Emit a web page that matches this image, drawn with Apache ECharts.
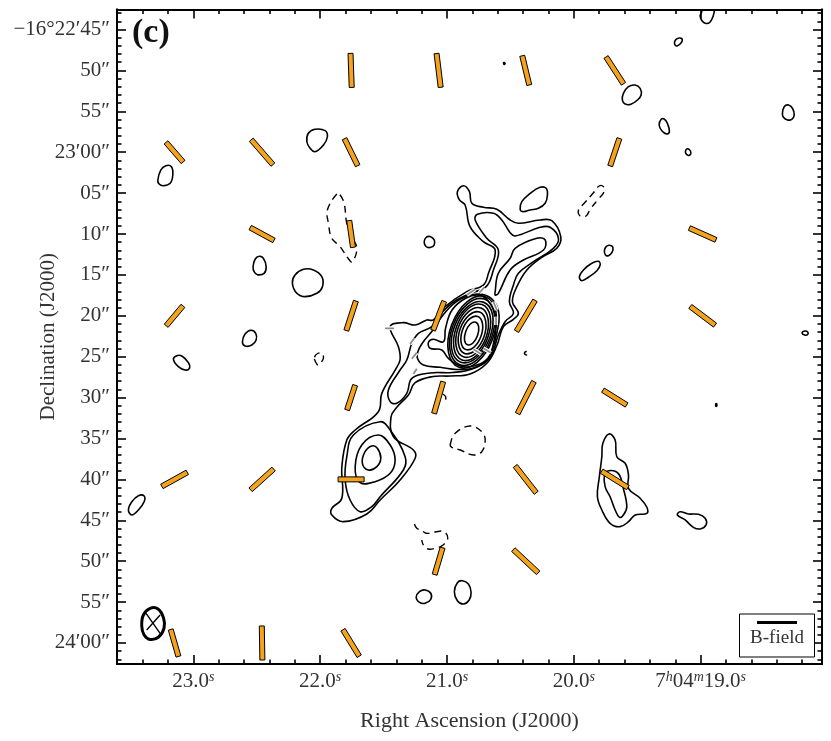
<!DOCTYPE html>
<html>
<head>
<meta charset="utf-8">
<title>(c)</title>
<style>
html,body{margin:0;padding:0;background:#fff;}
#chart{width:831px;height:741px;}
</style>
<script src="https://cdn.jsdelivr.net/npm/echarts@6/dist/echarts.min.js"></script>
</head>
<body>
<div id="chart"></div>
<script>
// tick positions, RA in seconds of 7h04m, Dec in arcsec past -16d22m
var raTicks = [23,22,21,20,19];
var raLabels = ['{n|23.0}{s|s}','{n|22.0}{s|s}','{n|21.0}{s|s}','{n|20.0}{s|s}','{n|7}{s|h}{n|04}{s|m}{n|19.0}{s|s}'];
var raMinor = [18.2,18.4,18.6,18.8,19.2,19.4,19.6,19.8,20.2,20.4,20.6,20.8,21.2,21.4,21.6,21.8,22.2,22.4,22.6,22.8,23.2,23.4];
var decTicks = [45,50,55,60,65,70,75,80,85,90,95,100,105,110,115,120];
var decLabels = ['\u221216\u00b022\u203245\u2033','50\u2033','55\u2033','23\u203200\u2033','05\u2033','10\u2033','15\u2033','20\u2033','25\u2033','30\u2033','35\u2033','40\u2033','45\u2033','50\u2033','55\u2033','24\u203200\u2033'];
var decMinor = [43,44,46,47,48,49,51,52,53,54,56,57,58,59,61,62,63,64,66,67,68,69,71,72,73,74,76,77,78,79,81,82,83,84,86,87,88,89,91,92,93,94,96,97,98,99,101,102,103,104,106,107,108,109,111,112,113,114,116,117,118,119,121,122];

// B-field vectors: ra, dec, length (arcsec), angle from north (deg)
var fieldVectors = [
	[21.756,50,4.16,-2],[21.066,50,4.16,-7],[20.379,50,3.67,-13.5],[19.677,50,3.91,-33],
	[23.148,60,3.18,-41],[22.458,60,4.03,-41],[21.756,60,3.67,-26],[19.677,60,3.55,18.5],
	[22.458,70,3.30,-61.5],[21.756,70,3.30,-8],[18.984,70,3.55,-66],
	[23.148,80,3.18,40],[21.756,80,3.79,18],[21.066,80,3.79,21],[20.379,80,4.40,31],[18.984,80,3.79,-53],
	[21.756,90,3.18,18],[21.066,90,4.03,16],[20.379,90,4.40,27],[19.677,90,3.42,-58],
	[23.148,100,3.55,61],[22.458,100,3.79,48],[21.756,100,3.18,90],[20.379,100,4.16,-38],[19.677,100,3.79,-58],
	[21.066,110,3.42,16.5],[20.379,110,4.16,-47],
	[23.148,120,3.42,-16],[22.458,120,4.16,-1],[21.756,120,3.79,-31.5]
];

// main source, outer levels
var jetL1 = [[20.870,64.10],[20.823,64.83],[20.804,66.25],[20.713,66.74],[20.607,66.98],[20.502,68.29],[20.437,68.69],[20.266,68.29],[20.174,68.38],[20.103,70.33],[20.134,71.75],[20.252,72.85],[20.370,74.40],[20.449,76.44],[20.484,78.28],[20.437,79.70],[20.476,80.43],[20.555,81.33],[20.605,83.57],[20.684,85.77],[20.818,87.11],[20.975,87.36],[21.110,87.42],[21.251,88.18],[21.304,89.68],[21.396,91.19],[21.441,92.34],[21.422,94.78],[21.265,96.41],[21.251,97.42],[21.370,100.07],[21.527,102.52],[21.632,104.23],[21.817,105.17],[21.908,104.35],[21.908,103.54],[21.829,102.31],[21.829,98.45],[21.790,95.18],[21.724,93.96],[21.541,91.72],[21.514,89.48],[21.409,86.63],[21.370,85.40],[21.383,83.78],[21.448,81.33],[21.344,80.84],[21.251,81.13],[21.159,80.51],[21.107,80.51],[21.015,78.89],[20.844,77.05],[20.713,76.24],[20.673,74.80],[20.620,71.96],[20.713,70.94],[20.818,69.11],[20.857,66.46],[20.902,65.84],[20.918,64.83]];
var jetL2 = [[20.778,68.29],[20.760,67.59],[20.634,67.47],[20.568,68.29],[20.502,69.84],[20.463,70.25],[20.266,69.18],[20.187,69.18],[20.121,70.53],[20.161,71.75],[20.318,73.39],[20.437,74.80],[20.476,76.24],[20.508,78.28],[20.476,79.70],[20.542,80.72],[20.595,82.35],[20.660,85.04],[20.802,86.50],[20.960,86.93],[21.133,86.99],[21.277,87.64],[21.317,89.48],[21.396,90.70],[21.448,90.50],[21.462,89.07],[21.370,86.63],[21.317,85.40],[21.277,83.36],[21.225,82.14],[21.120,81.33],[21.078,80.27],[20.960,78.44],[20.818,77.27],[20.691,76.44],[20.634,74.40],[20.595,71.96],[20.686,70.53]];
var jetFinger = [[20.620,77.05],[20.595,74.80],[20.502,72.97],[20.463,71.75],[20.292,70.53],[20.226,70.73],[20.239,71.96],[20.397,73.18],[20.502,74.40],[20.595,77.25],[20.620,77.46]];
var coreL3 = [[21.233,85.20],[21.186,86.02],[21.054,86.30],[20.922,86.57],[20.791,86.38],[20.686,85.53],[20.636,83.81],[20.605,81.98],[20.589,80.02],[20.620,78.44],[20.691,77.52],[20.802,77.43],[20.928,78.31],[21.031,79.90],[21.117,81.86],[21.188,83.20],[21.228,84.30]];
var coreL4 = [[21.028,83.17],[21.107,82.87],[21.146,83.24],[21.133,83.97],[21.041,84.18],[20.989,85.20],[20.896,86.14],[20.791,86.14],[20.676,85.16],[20.628,82.96],[20.613,80.51],[20.652,78.68],[20.739,77.50],[20.849,77.82],[20.960,79.29],[21.011,81.49]];

// core rings, inside out
var ring1 = [[20.759,82.42],[20.750,81.37],[20.773,80.78],[20.816,81.00],[20.852,81.91],[20.862,82.96],[20.838,83.55],[20.795,83.33]];
var ring2 = [[20.732,82.51],[20.720,80.97],[20.757,80.09],[20.822,80.39],[20.877,81.70],[20.889,83.24],[20.852,84.12],[20.786,83.82]];
var ring3 = [[20.709,82.59],[20.695,80.65],[20.743,79.54],[20.825,79.92],[20.895,81.55],[20.909,83.48],[20.861,84.60],[20.778,84.22]];
var ring4 = [[20.692,82.65],[20.676,80.37],[20.732,79.06],[20.830,79.50],[20.911,81.43],[20.928,83.72],[20.871,85.02],[20.773,84.58]];
var ring5 = [[20.679,82.70],[20.659,80.11],[20.723,78.63],[20.834,79.14],[20.925,81.33],[20.945,83.92],[20.881,85.40],[20.770,84.89]];
var ring6 = [[20.664,82.75],[20.640,79.93],[20.713,78.33],[20.836,78.88],[20.940,81.26],[20.963,84.08],[20.891,85.68],[20.768,85.13]];
var ring7 = [[20.652,82.81],[20.627,79.72],[20.705,77.96],[20.839,78.56],[20.952,81.15],[20.976,84.24],[20.899,86.00],[20.764,85.40]];
var ring8 = [[20.641,82.87],[20.614,79.55],[20.698,77.66],[20.842,78.30],[20.963,81.10],[20.989,84.41],[20.905,86.30],[20.761,85.66]];

// south lobe
var southL2 = [[21.527,92.95],[21.738,94.57],[21.790,97.23],[21.803,100.07],[21.764,102.52],[21.685,103.95],[21.593,103.34],[21.527,102.12],[21.344,98.85],[21.330,97.23],[21.448,93.96]];
var southL3 = [[21.541,94.57],[21.672,95.79],[21.724,98.45],[21.685,100.40],[21.567,100.28],[21.448,99.25],[21.409,97.63],[21.448,95.79]];
var southL4 = [[21.593,95.92],[21.646,96.62],[21.667,98.03],[21.620,98.85],[21.553,98.45],[21.522,97.42],[21.549,96.20]];

// western source
var westOuter = [[19.722,94.45],[19.674,95.18],[19.661,97.23],[19.595,98.03],[19.569,99.46],[19.569,101.09],[19.477,102.31],[19.424,103.41],[19.424,104.15],[19.516,104.35],[19.569,105.17],[19.635,105.78],[19.714,105.37],[19.779,103.74],[19.814,102.12],[19.800,99.83],[19.779,97.23],[19.771,95.59]];
var westInner = [[19.753,99.25],[19.688,98.94],[19.640,99.46],[19.613,100.89],[19.582,103.34],[19.609,104.35],[19.640,104.64],[19.674,103.74],[19.714,102.12],[19.753,100.89]];

// small isolated solid contours
var blobB = [[19.205,46.77],[19.201,46.34],[19.177,46.07],[19.150,46.10],[19.146,46.41],[19.162,46.77],[19.189,47.02]];
var blobC = [[19.617,53.62],[19.609,52.80],[19.569,51.99],[19.516,51.79],[19.477,52.19],[19.469,53.01],[19.498,53.62],[19.550,54.14],[19.595,54.11]];
var blobD = [[19.327,56.67],[19.311,55.98],[19.288,55.94],[19.262,56.47],[19.246,57.49],[19.267,57.78],[19.306,57.37]];
var blobE = [[19.120,59.98],[19.109,59.61],[19.088,59.70],[19.077,60.06],[19.088,60.38],[19.109,60.31]];
var blobF = [[18.355,55.25],[18.341,54.44],[18.307,54.23],[18.276,54.63],[18.262,55.45],[18.281,55.98],[18.315,56.06],[18.347,55.73]];
var blobG = [[19.759,72.04],[19.745,71.55],[19.719,71.38],[19.692,71.63],[19.700,72.29],[19.727,72.65],[19.750,72.57]];
var blobH = [[19.956,75.22],[19.924,74.40],[19.858,73.58],[19.806,73.34],[19.792,73.79],[19.818,74.49],[19.885,75.29],[19.937,75.71]];
var blobJ = [[20.550,49.03],[20.542,49.16],[20.550,49.28],[20.554,49.10]];
var blobK = [[18.878,90.72],[18.871,90.90],[18.878,91.09],[18.882,90.90]];
var blobL = [[18.200,82.10],[18.180,81.86],[18.156,81.98],[18.156,82.29],[18.180,82.35]];
var blobM = [[21.180,70.98],[21.165,70.43],[21.133,70.31],[21.101,70.73],[21.101,71.35],[21.133,71.65],[21.165,71.53]];
var blobN = [[20.423,66.98],[20.410,66.05],[20.344,65.03],[20.266,64.29],[20.218,64.41],[20.208,65.23],[20.226,66.25],[20.279,66.86],[20.344,67.07],[20.402,67.27]];
var blobO = [[23.280,63.40],[23.257,62.18],[23.217,61.65],[23.173,61.77],[23.162,62.79],[23.183,63.80],[23.236,64.10],[23.270,63.89]];
var blobP = [[22.105,58.72],[22.093,57.69],[22.040,57.20],[21.961,57.37],[21.943,58.11],[21.974,59.12],[22.040,59.94],[22.079,59.52]];
var blobQ = [[22.529,74.00],[22.513,73.09],[22.481,72.73],[22.448,72.97],[22.426,74.00],[22.442,74.81],[22.495,74.98],[22.521,74.61]];
var blobR = [[22.219,76.03],[22.198,75.01],[22.132,74.32],[22.053,74.40],[21.987,75.22],[21.982,76.44],[22.026,77.25],[22.119,77.66],[22.184,77.25]];
var blobS = [[22.613,83.17],[22.592,82.23],[22.547,81.77],[22.508,82.14],[22.505,82.96],[22.539,83.57],[22.592,83.69]];
var blobT = [[23.157,85.32],[23.131,84.88],[23.091,84.92],[23.039,85.73],[23.031,86.42],[23.065,86.63],[23.118,86.22]];
var blobU = [[23.512,103.74],[23.485,102.73],[23.433,101.99],[23.388,102.03],[23.388,102.73],[23.433,103.74],[23.485,104.35]];
var blobV = [[21.243,114.41],[21.217,113.73],[21.173,113.52],[21.128,113.92],[21.128,114.66],[21.173,115.15],[21.217,115.03]];
var blobW = [[20.942,113.73],[20.918,112.63],[20.878,112.39],[20.831,112.79],[20.810,113.80],[20.825,114.74],[20.870,115.23],[20.918,114.83]];
var blobY = [[19.183,104.35],[19.162,103.95],[19.096,104.23],[19.017,104.27],[18.964,104.76],[18.957,105.57],[19.004,106.06],[19.057,105.86],[19.122,104.96]];
var blobTop = [[18.980,42.00],[18.992,42.86],[19.004,43.35],[18.988,43.96],[18.957,44.27],[18.925,44.08],[18.901,43.35],[18.890,42.49],[18.894,42.00]];
var blobHook = [[20.372,84.34],[20.388,84.49],[20.384,84.73],[20.368,84.79]];

// negative contours
var negA = [[21.869,65.11],[21.943,67.07],[21.935,68.69],[21.908,70.53],[21.843,71.55],[21.780,72.97],[21.748,73.42],[21.711,71.75],[21.751,70.33],[21.790,68.69],[21.811,66.25],[21.843,65.23]];
var negB = [[19.766,64.22],[19.800,64.13],[19.845,64.95],[19.918,66.25],[19.963,67.07],[19.950,67.80],[19.903,67.80],[19.871,66.98],[19.806,65.72],[19.761,64.83]];
var negC = [[20.975,95.79],[20.935,94.36],[20.818,93.47],[20.726,94.17],[20.699,95.18],[20.726,96.62],[20.792,97.02],[20.896,96.41],[20.962,96.08]];
var negD = [[21.257,105.45],[21.238,105.98],[21.204,106.19],[21.165,106.59],[21.094,106.43],[21.023,106.39],[20.994,107.20],[21.031,108.02],[21.094,108.43],[21.149,108.51],[21.186,108.02],[21.199,107.41]];
var negE = [[22.045,85.07],[22.020,84.61],[21.987,84.58],[21.974,85.16],[21.993,85.71],[22.016,86.02],[22.036,85.65]];
var negF = [[21.033,89.56],[21.011,89.87],[21.011,90.24],[21.027,90.48]];

// grey dashes over the jet and core, '-' breaks the line
var greyDashes = [
	[21.488,81.53],[21.417,81.53],['-','-'],
	[21.291,83.45],[21.257,82.72],['-','-'],
	[21.277,85.25],[21.238,84.51],['-','-'],
	[21.265,87.11],[21.238,86.47],['-','-'],
	[20.844,77.46],[20.778,76.76],['-','-'],
	[20.744,77.18],[20.707,76.52],['-','-'],
	[20.634,78.28],[20.607,79.29],['-','-'],
	[20.613,80.11],[20.613,81.13],['-','-'],
	[20.791,84.10],[20.733,84.67],['-','-'],
	[20.713,83.97],[20.654,84.51]
];

// beam
var beamOutline = [[23.407,117.93],[23.394,116.58],[23.341,115.76],[23.278,115.85],[23.235,116.95],[23.231,118.17],[23.274,119.27],[23.341,119.57],[23.388,119.02]];
var beamCross = [[23.373,116.37],[23.262,118.82],['-','-'],[23.368,118.41],[23.262,116.58]];

var closedSolid = [jetL1,jetL2,jetFinger,coreL3,coreL4,ring1,ring2,ring3,ring4,ring5,ring6,ring7,ring8,southL2,southL3,southL4,westOuter,westInner,blobB,blobC,blobD,blobE,blobF,blobG,blobH,blobJ,blobK,blobL,blobM,blobN,blobO,blobP,blobQ,blobR,blobS,blobT,blobU,blobV,blobW,blobY];
var openSolid = [blobTop,blobHook];
var closedDashed = [negA,negB,negC,negE];
var openDashed = [negD,negF];

var FONT = '"Liberation Serif","DejaVu Serif",serif';
var RA_MIN = 18.043, RA_MAX = 23.602, DEC_MIN = 42.555, DEC_MAX = 122.57;

function raLabel(value){
	var i = raTicks.indexOf(value);
	return i < 0 ? '' : raLabels[i];
}
function decLabel(value){
	var i = decTicks.indexOf(value);
	return i < 0 ? '' : decLabels[i];
}
function frameAxis(position,min,max,values,length){
	return {
		type:'value',
		position:position,
		min:min,
		max:max,
		inverse:true,
		splitLine:{show:false},
		axisLine:{show:true,onZero:false,lineStyle:{color:'#000',width:2}},
		axisTick:{show:true,inside:true,length:length,customValues:values,lineStyle:{color:'#000',width:1.6}},
		axisLabel:{show:false}
	};
}
// line series clamps its control points and squares the blobs off,
// so contours go through a custom series and a smooth polygon
function contourSeries(points,closed,lineWidth,dash){
	return {
		type:'custom',
		data:points,
		encode:{x:0,y:1},
		clip:true,
		silent:true,
		z:3,
		renderItem:function(params,api){
			if(params.dataIndex !== 0){
				return null;
			}
			return {
				type:closed ? 'polygon' : 'polyline',
				shape:{
					points:points.map(function(p){ return api.coord(p); }),
					smooth:0.4
				},
				style:{fill:'none',stroke:'#000',lineWidth:lineWidth,lineDash:dash}
			};
		}
	};
}

var xMain = frameAxis('bottom',RA_MIN,RA_MAX,raTicks,9);
xMain.name = 'Right Ascension (J2000)';
xMain.nameLocation = 'middle';
xMain.nameGap = 46;
xMain.nameMoveOverlap = false;
xMain.nameTextStyle = {fontFamily:FONT,fontSize:22,color:'#333'};
xMain.axisLabel = {
	show:true,
	margin:6,
	customValues:raTicks,
	formatter:raLabel,
	rich:{
		n:{fontFamily:FONT,fontSize:21,color:'#333'},
		s:{fontFamily:FONT,fontSize:14,fontStyle:'italic',color:'#333',padding:[0,0,9,0]}
	}
};
var yMain = frameAxis('left',DEC_MIN,DEC_MAX,decTicks,9);
yMain.name = 'Declination (J2000)';
yMain.nameLocation = 'middle';
yMain.nameGap = 58;
yMain.nameMoveOverlap = false;
yMain.nameTextStyle = {fontFamily:FONT,fontSize:21,color:'#333'};
yMain.axisLabel = {show:true,margin:7,customValues:decTicks,formatter:decLabel,fontFamily:FONT,fontSize:21,color:'#333'};

var seriesList = [];
closedSolid.forEach(function(c){ seriesList.push(contourSeries(c,true,1.6,null)); });
openSolid.forEach(function(c){ seriesList.push(contourSeries(c,false,1.6,null)); });
closedDashed.forEach(function(c){ seriesList.push(contourSeries(c,true,1.4,[7,5])); });
openDashed.forEach(function(c){ seriesList.push(contourSeries(c,false,1.4,[7,5])); });

// white edge then grey dash
seriesList.push({type:'line',data:greyDashes,symbol:'none',silent:true,z:4,lineStyle:{color:'#fff',width:4}});
seriesList.push({type:'line',data:greyDashes,symbol:'none',silent:true,z:5,lineStyle:{color:'#8c8c8c',width:1.8}});

// beam
seriesList.push(contourSeries(beamOutline,true,3,null));
seriesList.push({type:'line',data:beamCross,symbol:'none',silent:true,z:5,lineStyle:{color:'#000',width:1.4}});

// B-field vectors
seriesList.push({
	type:'custom',
	data:fieldVectors,
	encode:{x:0,y:1},
	silent:true,
	z:6,
	renderItem:function(params,api){
		var c = api.coord([api.value(0),api.value(1)]);
		var half = Math.abs(api.size([0,api.value(2)])[1])/2;
		var a = api.value(3)*Math.PI/180;
		var ux = Math.sin(a), uy = -Math.cos(a);
		var w = 2.5;
		return {
			type:'polygon',
			shape:{points:[
				[c[0]+ux*half+uy*w,c[1]+uy*half-ux*w],
				[c[0]+ux*half-uy*w,c[1]+uy*half+ux*w],
				[c[0]-ux*half-uy*w,c[1]-uy*half+ux*w],
				[c[0]-ux*half+uy*w,c[1]-uy*half-ux*w]
			]},
			style:{fill:'#f5a31c',stroke:'#000',lineWidth:1}
		};
	}
});

var chart = echarts.init(document.getElementById('chart'),null,{renderer:'canvas'});
chart.setOption({
	animation:false,
	backgroundColor:'#fff',
	grid:{left:117,right:9,top:9.5,bottom:77,containLabel:false,outerBoundsMode:'none'},
	xAxis:[
		xMain,
		frameAxis('bottom',RA_MIN,RA_MAX,raMinor,4.5),
		frameAxis('top',RA_MIN,RA_MAX,raTicks,9),
		frameAxis('top',RA_MIN,RA_MAX,raMinor,4.5)
	],
	yAxis:[
		yMain,
		frameAxis('left',DEC_MIN,DEC_MAX,decMinor,4.5),
		frameAxis('right',DEC_MIN,DEC_MAX,decTicks,9),
		frameAxis('right',DEC_MIN,DEC_MAX,decMinor,4.5)
	],
	series:seriesList,
	graphic:[
		{type:'text',left:132,top:16,z:20,style:{text:'(c)',fontFamily:FONT,fontWeight:'bold',fontSize:34,fill:'#111'}},
		{type:'rect',z:20,shape:{x:739.5,y:614,width:75,height:43},style:{fill:'#fff',stroke:'#000',lineWidth:1}},
		{type:'line',z:21,shape:{x1:757,y1:622.5,x2:797,y2:622.5},style:{stroke:'#000',lineWidth:3}},
		{type:'text',z:21,x:777,y:638,style:{text:'B-field',fontFamily:FONT,fontSize:19,fill:'#333',align:'center',verticalAlign:'middle'}}
	]
});
</script>
</body>
</html>
